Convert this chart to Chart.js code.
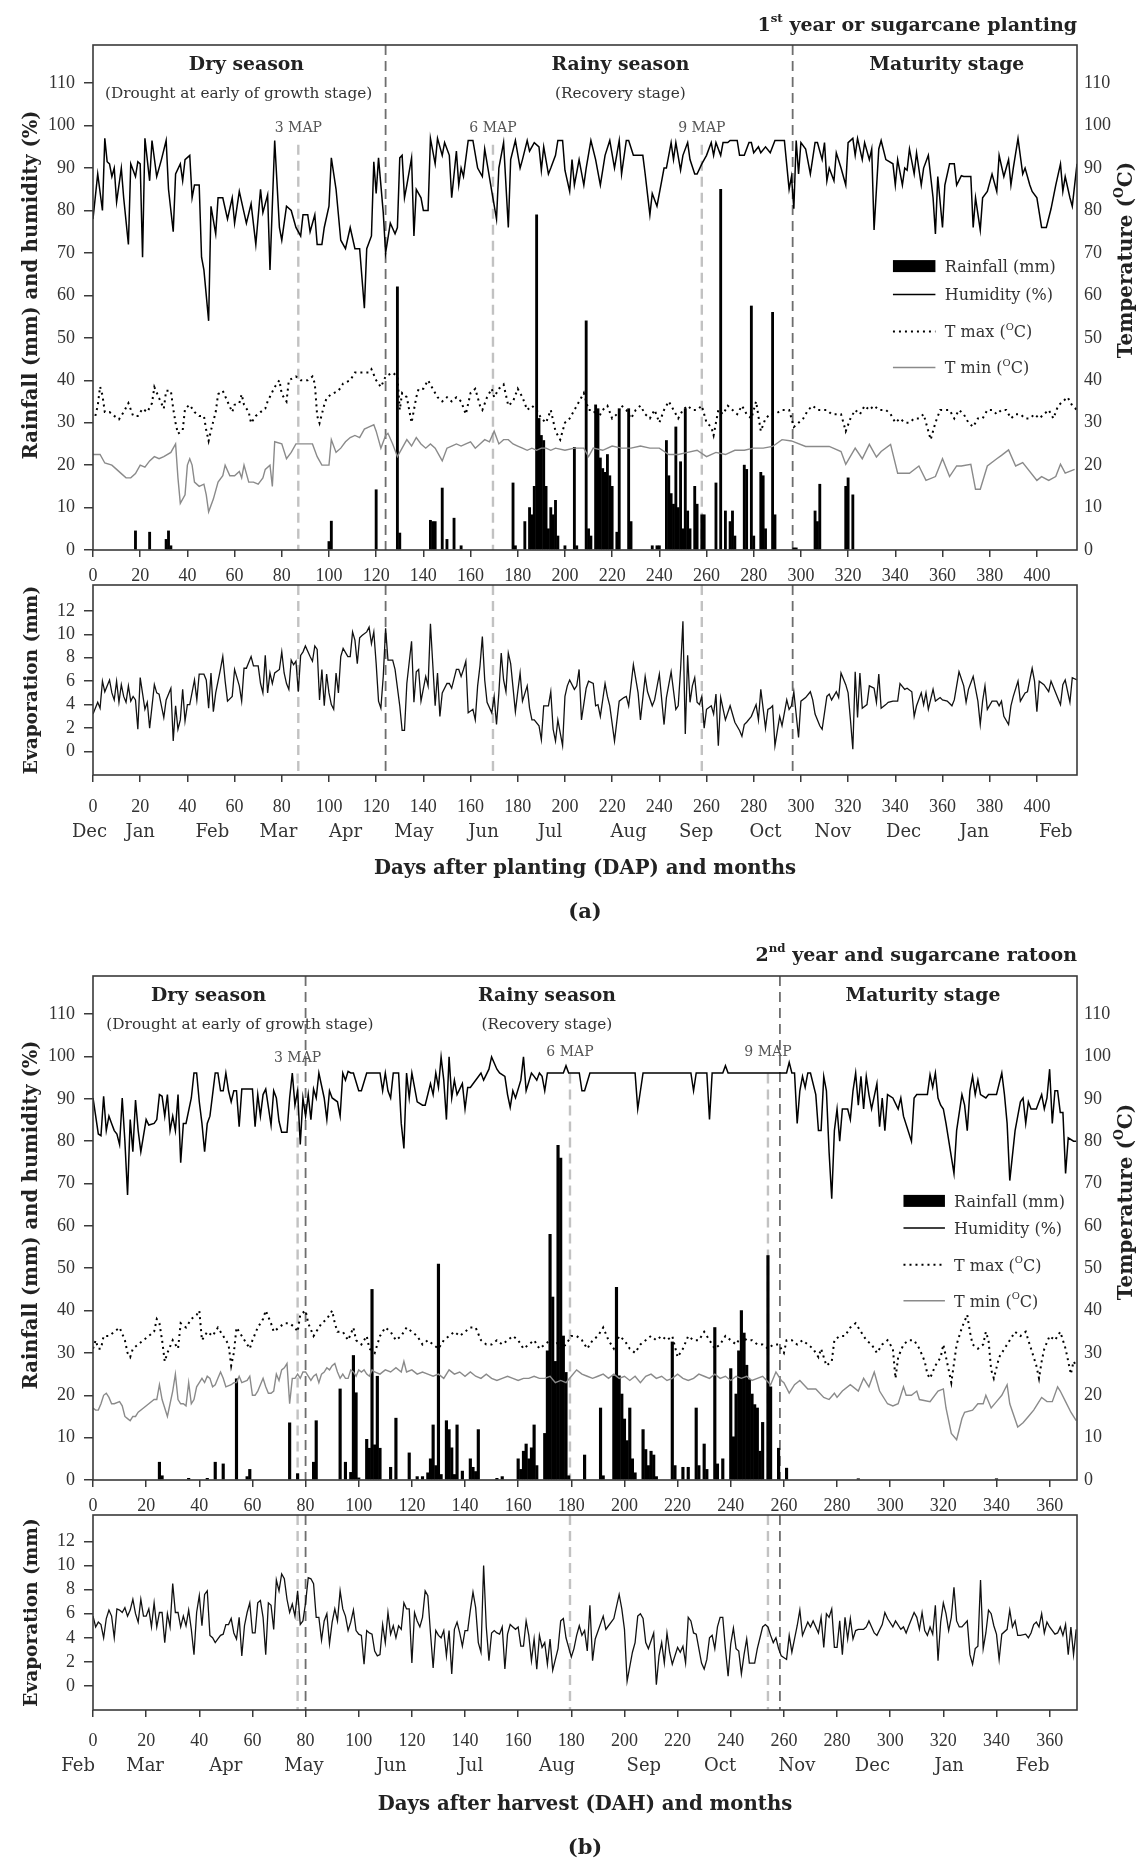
<!DOCTYPE html>
<html>
<head>
<meta charset="utf-8">
<script src="https://cdn.jsdelivr.net/npm/chart.js@4.4.1/dist/chart.umd.min.js"></script>
<style>
  body { margin: 0; background: #fff; }
  #wrap { position: relative; width: 1145px; height: 1866px; overflow: hidden; }
  #wrap canvas { position: absolute; left: 0; }
</style>
</head>
<body>
<div id="wrap">
  <canvas id="topA" width="1145" height="600" style="top:0px"></canvas>
  <canvas id="evapA" width="1145" height="370" style="top:560px"></canvas>
  <canvas id="topB" width="1145" height="600" style="top:930px"></canvas>
  <canvas id="evapB" width="1145" height="376" style="top:1490px"></canvas>
</div>
<script>
/* ---- data: [day, value] ---- */

// (a) 1st year, days after planting
const humidityA = [[0,78],[2,88.6],[4,80],[5,97],[6,91.5],[7,91],[8,88],[9,90],[10,82],[12,90],[13,83],[15,72],[16,91],[18,88],[19,91.5],[20,91],[21,69],[22,97],[24,87],[25,96.5],[27,88],[29,92],[31,96.5],[32,85],[34,75],[35,88.6],[37,91],[38,87],[39,92],[41,93],[42,83],[43,86],[45,86],[46,69],[47,66],[49,54],[50,81],[52,74.5],[53,83],[55,83],[57,78],[59,83],[60,77],[62,84.5],[64,79.5],[65,77],[67,81.6],[69,72],[71,85],[72,79.5],[74,83.7],[75,66],[77,96.5],[79,76],[80,73],[82,81],[84,80],[86,76],[88,74],[89,79],[91,79],[92,75],[94,79],[95,72],[97,72],[98,76],[100,81],[101,92.4],[103,85],[105,73],[107,71],[109,76],[111,71],[113,71],[115,57],[116,71],[118,74],[119,91.5],[120,84],[121,92.4],[123,79.5],[124,70],[126,77],[128,74.5],[129,76],[130,92.4],[131,93],[132,83],[133,86],[135,92.4],[136,74],[137,85],[139,83],[140,80],[142,80],[143,97],[145,91],[146,97],[148,93],[149,96],[151,93],[152,83],[154,94],[155,86],[156,90],[157,88],[159,96.5],[161,96.5],[163,90],[165,88],[166,94.5],[169,84.5],[171,78],[172,90],[174,96],[176,76],[177,92],[179,96.5],[181,90],[182,92],[184,96.5],[185,94],[187,96],[189,95],[190,89.5],[191,95],[193,88.6],[194,90],[196,93],[197,96.5],[199,96.5],[200,89.5],[202,84.5],[203,92],[204,86],[206,92],[208,86],[209,90],[211,96.5],[213,92],[215,86],[217,93],[219,96.5],[221,90],[223,96.5],[224,88.6],[226,96.5],[227,96.5],[229,93],[233,93],[234,88.6],[236,79],[237,84],[239,81],[241,87],[242,90],[243,90],[245,96],[246,92],[247,96],[249,89.5],[250,93],[252,96],[253,92],[255,88.6],[256,88.6],[258,91],[259,92],[260,93],[262,96],[263,93],[264,96],[266,93],[267,96],[269,96],[270,96.5],[273,96.5],[274,93],[276,93],[278,96],[279,96],[280,93.6],[282,95],[283,93.6],[285,95],[287,93.6],[289,96.5],[293,96.5],[295,85],[296,88],[297,80.4],[298,96.5],[299,88.6],[300,96],[302,94.5],[304,88.6],[306,96],[307,96],[309,92],[310,96],[311,87],[312,90],[314,87],[315,93.6],[317,90],[319,86],[320,96],[322,97],[323,93],[324,97],[326,92],[327,96],[329,92],[330,94.5],[331,75.4],[333,94.5],[334,96.5],[336,92],[339,91],[340,86],[341,92],[343,86],[344,90],[345,89.5],[346,94.5],[348,88.6],[349,93.6],[351,86],[352,90],[354,93],[356,83],[357,74.5],[358,88],[360,76],[361,86],[363,91],[365,91],[366,86],[368,88.2],[369,88],[372,88],[373,76],[374,83],[376,75.4],[377,83],[379,84.5],[381,88.6],[383,84.5],[384,93],[386,88],[388,92],[389,86],[390,90],[392,97],[394,88.6],[395,90],[397,86],[398,84.5],[400,83],[401,79.5],[402,76],[404,76],[406,80.4],[408,86],[410,91],[411,84.5],[412,88],[414,83],[415,81],[417,91]];
const tmaxA = [[1,31.6],[2,34],[3,38.5],[4,36.5],[5,32.5],[7,32.5],[9,31.6],[11,30.8],[13,32.5],[15,34.6],[17,31.6],[19,31.6],[21,33.3],[23,32.5],[25,34.6],[26,38.4],[28,35.8],[30,33.3],[31,37.5],[33,37.5],[34,33.3],[35,29.9],[36,27.4],[38,28.2],[39,33.3],[41,34.2],[43,32.5],[45,31.6],[47,31.6],[48,28.2],[49,25.7],[50,28.2],[52,32.5],[53,36.7],[55,37.5],[57,35],[59,32.5],[60,34.2],[62,34.6],[63,36.7],[64,34.2],[66,32.5],[67,29.9],[69,31.6],[71,32.5],[73,33.3],[74,35],[77,38.4],[79,40],[80,36.7],[82,35],[83,40],[86,40.9],[88,40],[91,40],[93,40.9],[94,39.2],[95,31.6],[96,29.9],[98,34.2],[99,35.8],[101,36.7],[104,37.5],[106,39.2],[109,40],[111,41.8],[114,41.8],[117,41.8],[118,42.6],[120,40],[122,38.4],[124,40.9],[127,41.8],[129,40.9],[130,33],[131,37],[133,36],[135,30],[137,36],[138,38],[140,38],[142,40],[144,38],[146,36],[148,35],[150,36],[152,35],[154,36],[156,35],[158,32],[160,37],[162,38],[164,34],[165,33],[167,36],[169,38],[170,36],[172,38],[174,39],[176,34],[178,35],[180,38],[182,36],[184,33],[186,34],[188,33],[190,31],[192,30],[194,33],[196,28],[198,26],[200,30],[202,31],[204,33],[206,35],[208,37],[210,33],[212,33],[214,31],[216,33],[218,34],[220,31],[222,32],[224,34],[226,33],[228,31],[230,33],[232,34],[234,32],[236,31],[238,33],[240,30],[242,33],[244,35],[246,33],[248,31],[250,33],[252,34],[254,33],[256,33],[258,34],[260,30],[262,29],[263,27],[265,33],[267,32],[269,34],[271,33],[273,32],[275,34],[277,32],[279,31],[281,35],[283,28],[285,31],[287,32],[289,32],[292,33],[295,33],[297,29],[299,30],[301,31],[303,33],[305,34],[307,33],[309,33],[311,33],[313,32],[315,32],[317,32],[319,28],[321,31],[323,33],[325,32],[327,34],[329,33],[331,34],[333,33],[336,33],[338,32],[340,30],[342,31],[344,30],[346,30],[348,31],[350,31],[352,32],[354,28],[355,26],[357,30],[359,33],[361,33],[363,33],[365,31],[367,33],[369,32],[371,30],[373,29],[375,31],[377,31],[379,33],[381,33],[383,32],[385,33],[387,33],[389,31],[391,32],[393,32],[395,31],[397,31],[399,32],[401,31],[403,32],[405,33],[407,31],[409,34],[411,35],[413,36],[415,34],[417,33]];
const tminA = [[0,22.5],[3,22.5],[5,20.5],[8,20],[10,19],[12,18],[14,17],[16,17],[18,18],[20,20],[22,19.5],[24,21],[26,22],[28,21.5],[30,22],[33,23],[35,25],[36,17],[37,11],[39,13],[40,20],[41,21.5],[42,20],[43,16],[45,15],[47,15.5],[48,13],[49,9],[51,12],[53,16],[55,17.5],[56,20],[58,17.5],[60,17.5],[62,18.5],[63,17],[64,20],[66,16],[68,16],[70,15.5],[72,17],[73,19],[75,20],[76,15],[77,25.5],[80,25],[82,21.5],[84,23],[86,25],[90,25],[93,25],[95,22],[97,20],[100,20],[101,26],[103,23],[105,24],[107,25.5],[109,26.5],[111,27],[113,26.5],[115,28.5],[117,29],[119,29.5],[120,28],[121,26],[122,24],[124,27],[125,27.5],[127,25],[129,22],[131,24],[133,26],[135,24.5],[137,26.5],[139,25],[141,24],[143,25],[145,24],[147,22],[148,21],[150,24],[152,24.5],[154,25],[156,24.5],[158,25],[160,25.5],[162,24],[164,25],[166,26],[168,25.5],[170,28],[172,25],[174,26],[176,26],[178,25],[180,24.5],[182,24],[184,23.5],[186,24],[188,23.5],[190,24],[192,24],[194,23.5],[196,24],[200,23.5],[204,24],[208,24],[210,22],[212,24],[216,23.5],[220,24.5],[224,24],[228,24],[232,24.5],[236,24],[240,24],[244,22.5],[248,22.5],[252,23],[256,23.5],[260,22],[264,23],[268,22.5],[272,23.5],[276,23.5],[280,24],[284,24],[288,24.4],[292,26],[296,25.7],[302,24.4],[312,24.4],[317,23.2],[319,20.2],[323,24],[326,21.5],[329,24.9],[332,21.9],[334,23.2],[338,24.9],[341,18.1],[346,18.1],[350,19.8],[353,16.4],[357,17.3],[360,21.5],[363,17.3],[366,19.8],[368,19.8],[372,20.2],[374,14.3],[376,14.3],[379,19.8],[383,21.5],[385,22.3],[388,23.6],[391,19.8],[394,20.6],[400,16.4],[402,17.3],[405,16.4],[408,17.3],[410,20.2],[412,18.1],[416,19]];
const rainA = [[18,4.5],[24,4.2],[31,2.5],[32,4.5],[33,1],[100,2],[101,6.8],[120,14.2],[129,62],[130,4],[143,7],[144,6.7],[145,6.7],[148,14.6],[150,2.5],[153,7.5],[156,1],[178,15.8],[179,1],[183,6.7],[185,10],[186,8.3],[187,15],[188,79],[189,31],[190,27],[191,25.8],[192,15],[193,5],[194,10],[195,8.3],[196,11.7],[197,3.3],[200,1],[204,24.2],[205,1],[209,54],[210,5],[211,3.3],[213,34.2],[214,33.3],[215,21.7],[216,19.2],[217,18.3],[218,22.5],[219,17.5],[220,15],[222,4.2],[223,33.3],[227,33.3],[228,6.7],[237,1],[239,1],[240,1],[243,25.8],[244,17.5],[245,13.3],[246,10.8],[247,29],[248,10],[249,20.8],[250,5],[251,33.3],[252,9.2],[253,5],[255,15],[256,10.8],[258,8.3],[259,8.3],[264,15.8],[266,85],[268,9.2],[270,6.7],[271,9.2],[272,3.3],[276,20],[277,19],[279,57.5],[280,3.3],[283,18.3],[284,17.5],[285,5],[288,56],[289,8.3],[297,0.5],[298,0.5],[306,9.2],[307,6.7],[308,15.5],[319,15],[320,17],[322,13]];
const evapA = [[0,3.2],[2,4.2],[3,3.7],[4,6],[5,5.1],[7,6.1],[8,5],[9,4.4],[10,6],[11,4.2],[12,5.7],[13,4.7],[14,4.2],[15,5.6],[16,4.3],[17,4.7],[18,4.4],[19,1.9],[20,6.3],[22,3.6],[23,4.2],[24,2],[26,5.7],[27,5],[28,4.9],[30,2.9],[31,4.4],[33,5.4],[34,0.9],[35,3.9],[36,1.9],[37,2.7],[38,5.3],[39,2.6],[40,4],[41,4],[43,6.1],[44,4.4],[45,6.6],[47,6.6],[48,6.1],[49,3.7],[50,6.7],[51,3.4],[52,5],[54,7],[55,8.1],[56,6],[57,4.3],[59,4.7],[60,7],[62,5.6],[63,4.3],[64,7.1],[65,7.1],[67,8.1],[68,7.3],[70,7.3],[71,5.8],[72,5],[73,8.2],[74,5],[75,6.7],[76,5.8],[77,6.7],[79,7],[80,8.5],[81,6.7],[82,5.8],[83,5.3],[84,7.8],[85,7.4],[86,7.7],[87,5.1],[88,8.2],[89,8.5],[90,9],[92,8.1],[93,7.7],[94,9],[95,8.7],[96,4.4],[97,7],[98,3.9],[99,6.6],[100,5],[101,4],[102,3.6],[103,6.7],[104,5],[105,8.1],[106,8.8],[108,8.1],[109,8.1],[110,10.2],[111,9.5],[112,7.5],[113,9.7],[114,9.9],[116,10.2],[117,10.6],[118,9.2],[119,10.2],[120,7.5],[121,4.3],[122,3.7],[123,6.4],[124,10.5],[125,7.8],[127,7.8],[128,7],[130,3.9],[131,1.8],[132,1.8],[133,5.8],[135,9.4],[136,4.2],[137,6.8],[138,7],[139,4.3],[141,6.4],[142,5.6],[143,10.9],[144,7.4],[145,3.9],[146,6.7],[147,3],[148,5],[150,5.8],[151,5.8],[152,5.4],[154,7],[155,7],[156,6.4],[157,7],[158,7.7],[159,3.3],[161,3.6],[162,2.7],[163,5.6],[164,7.3],[165,9.8],[166,6.1],[167,4.2],[169,3.3],[170,4.7],[171,2.3],[172,5],[173,8.4],[174,6.1],[175,5.1],[176,8.4],[177,7.5],[179,3.4],[180,5.1],[181,6.7],[182,4.3],[184,5.6],[185,3.7],[186,2.7],[187,2.7],[189,2.2],[190,1],[191,3.9],[193,3.9],[194,5.1],[195,1.9],[196,0.9],[197,2.7],[198,1.6],[199,0.5],[200,4.7],[201,5.6],[202,6.1],[204,5.3],[205,5.6],[206,7],[207,2.7],[209,5.4],[210,6],[212,5.8],[213,3.9],[214,4],[215,3],[217,5.8],[218,4.7],[219,3.9],[221,0.9],[223,4.3],[225,4.6],[226,4.7],[227,3.9],[229,7.4],[231,5],[232,2.7],[234,6.4],[235,5.1],[237,3.9],[238,4.4],[240,6.6],[242,2.3],[243,4.6],[245,6.8],[247,3.6],[248,3.9],[249,7],[250,11.1],[251,1.5],[252,8.2],[253,4.2],[254,5.6],[255,6.3],[256,4.2],[257,4],[258,4.7],[259,2],[260,3.6],[262,3.9],[263,3.2],[264,4.9],[265,0.5],[266,4.6],[268,2.7],[270,3.9],[272,2.5],[274,1.8],[275,1.3],[276,2.3],[277,2.5],[279,3],[281,4],[282,2.7],[283,5.3],[285,2],[286,3.6],[287,3.7],[288,3.9],[289,0.5],[291,3],[292,2.2],[294,4.4],[295,3.6],[296,3.9],[297,5.1],[299,1.2],[300,4.3],[302,4.6],[304,5.1],[305,4.4],[306,3.2],[308,2.2],[309,1.9],[311,4.7],[312,4.9],[313,4.4],[315,5.1],[316,4.6],[317,6.7],[319,5.7],[320,5],[321,2.7],[322,0.2],[323,6.8],[324,2.9],[325,6.7],[326,3.7],[328,4],[329,5.6],[331,5.4],[332,4.2],[333,6.6],[334,3.7],[336,4],[337,4.2],[339,4.3],[341,4.3],[342,5.8],[344,5.3],[345,5.4],[347,5.1],[348,3],[349,3.9],[351,5],[352,4],[353,5],[354,3.6],[356,5.3],[357,4.3],[359,4.6],[360,4.4],[362,4.3],[364,3.9],[365,4.4],[367,6.8],[369,5.6],[370,4.2],[371,5.3],[373,6.4],[375,4.3],[376,2.3],[377,4.3],[378,5.6],[379,3.6],[381,4.3],[383,4.3],[384,3.9],[385,4.3],[386,3],[388,2.3],[389,3.9],[390,4.7],[392,6],[393,4.3],[395,5],[396,5.1],[398,7.1],[399,6],[400,3.4],[401,6],[403,5.7],[405,5.1],[406,6],[408,5],[410,4],[411,5.7],[412,6.1],[414,4.2],[415,6.3],[417,6.1]];
const monthsA = ['Dec','Jan','Feb','Mar','Apr','May','Jun','Jul','Aug','Sep','Oct','Nov','Dec','Jan','Feb'];
const monthDaysA = [-1.5,20,50.6,78.6,107,136,165.5,193.7,227,255.6,285,313.5,343.5,373.5,408];
const mapLinesA = [87, 169.5, 258];   // 3, 6, 9 months after planting
const stageLinesA = [124, 296.5];     // dry -> rainy -> maturity

// (b) 2nd year, days after harvest
const humidityB = [[0,90.2],[2,81.7],[3,81.3],[4,90.6],[5,82.5],[6,85.9],[7,84.2],[8,82.5],[9,81.7],[10,79.2],[11,90.2],[12,80],[13,67.3],[14,85.1],[15,77.5],[16,89.7],[17,82.5],[18,77.5],[20,85.1],[21,83.8],[23,84.2],[24,85.1],[25,91],[26,90.6],[27,85.9],[28,91],[29,82.5],[30,85.9],[31,82.5],[32,91],[33,74.9],[34,84.2],[35,84.2],[37,90.2],[38,96.1],[39,96.1],[40,89.3],[41,84.2],[42,77.5],[43,84.2],[44,85.9],[45,91],[46,96.1],[47,96.1],[48,91.9],[49,91.9],[50,96.1],[51,91.9],[52,89.3],[53,91.9],[54,91.9],[55,83.4],[56,92.3],[58,92.3],[60,92.3],[61,83.4],[62,91],[63,85.9],[64,91],[65,92.3],[67,83.8],[68,91.9],[69,90.2],[70,84.7],[71,82.1],[73,82.1],[74,90.2],[75,96.1],[76,88.5],[77,91.9],[78,79.2],[79,90.2],[80,85.9],[81,91],[82,85.1],[83,92.3],[84,90.2],[85,96.1],[87,90.2],[88,85.1],[89,91.9],[90,90.2],[92,89.3],[93,85.9],[94,96.1],[95,94.4],[96,96.5],[97,96.1],[98,96.1],[100,91.9],[101,91.9],[103,96.1],[108,96.1],[109,91.9],[110,96.1],[111,91.9],[112,90.2],[113,96.1],[115,96.1],[116,84.2],[117,78.3],[118,96.1],[119,90.2],[120,96.1],[121,92.7],[122,89.3],[124,88.5],[125,88.5],[127,93.6],[128,91],[129,96.1],[130,92.7],[131,99.9],[132,94.4],[133,85.1],[134,99.9],[135,90.2],[136,94.4],[137,91],[139,93.6],[140,87.6],[141,92.7],[142,92.7],[144,94.4],[146,96.1],[147,94.4],[149,97],[150,99.9],[152,97],[153,96.1],[155,95.3],[156,91],[157,88],[158,91.9],[159,90.2],[161,94.4],[162,99.9],[163,91.9],[165,96.1],[166,95.3],[167,94.4],[168,96.1],[169,95.3],[170,91.9],[171,96.1],[177,96.1],[178,97.8],[179,96.1],[183,96.1],[184,91.9],[185,91.9],[187,96.1],[204,96.1],[205,87.6],[207,96.1],[225,96.1],[226,91.9],[227,96.1],[231,96.1],[232,85.1],[233,96.1],[237,96.1],[238,97.8],[239,96.1],[261,96.1],[262,98.6],[263,96.1],[264,96.1],[265,84.2],[266,91.9],[267,95.3],[268,92.7],[269,96.1],[270,96.1],[272,91],[273,82.5],[274,82.5],[275,95.3],[276,91.9],[277,77.5],[278,66.4],[279,82.5],[280,87.6],[281,80],[282,87.6],[284,87.6],[285,85.1],[286,91.9],[287,96.1],[288,88.5],[289,95.3],[290,87.6],[291,95.3],[292,91],[293,87.6],[295,93.6],[296,83.4],[297,90.2],[298,82.5],[299,91],[301,90.2],[303,87.6],[304,90.2],[305,85.9],[308,80],[309,90.2],[310,91],[314,91],[315,95.7],[316,92.7],[317,96.1],[318,90.2],[319,88.5],[320,87.6],[321,84.2],[324,72.4],[325,82.5],[327,91],[328,88.5],[329,82.5],[330,91.9],[331,95.3],[332,91],[333,94.4],[334,91],[336,90.2],[337,91],[339,91],[340,91],[342,96.1],[343,91],[344,84.2],[345,70.7],[347,82.5],[348,85.9],[349,89.3],[350,90.2],[351,84.2],[352,89.3],[353,87.6],[355,87.6],[356,89.3],[357,91],[358,87.6],[359,90.2],[360,97],[361,84.2],[362,91.9],[363,91.9],[364,86.8],[365,86.8],[366,72.4],[367,80.8],[369,80],[370,80]];
const tmaxB = [[0,31],[1,33],[2,31],[3,31],[4,34],[6,34],[8,35],[10,36],[12,33],[13,30],[14,29],[15,31],[17,32],[19,33],[21,34],[23,35],[24,38],[25,37],[26,33],[27,28],[28,30],[30,33],[32,31],[33,37],[35,36],[37,38],[39,39],[40,40],[41,33],[43,35],[45,34],[47,36],[49,34],[51,32],[52,27],[53,30],[54,36],[56,34],[58,32],[59,31],[60,33],[62,36],[64,38],[65,40],[67,37],[68,35],[70,36],[72,37],[74,37],[76,36],[77,35],[78,39],[80,40],[81,37],[83,34],[84,35],[86,37],[88,38],[90,40],[91,37],[92,35],[94,35],[96,33],[98,36],[99,33],[101,32],[103,34],[104,31],[106,30],[108,34],[110,36],[112,35],[114,33],[116,34],[118,36],[120,35],[122,34],[124,32],[126,33],[128,32],[130,31],[132,33],[134,34],[136,35],[138,34],[140,35],[142,36],[144,36],[146,33],[148,32],[150,32],[152,33],[154,32],[156,33],[158,34],[160,33],[162,31],[164,32],[166,33],[168,31],[170,32],[172,33],[174,33],[176,31],[178,32],[180,34],[182,34],[184,33],[186,31],[188,33],[190,34],[192,36],[194,33],[196,31],[198,34],[200,33],[202,31],[204,30],[206,32],[208,33],[210,34],[212,33],[214,34],[216,33],[218,34],[220,29],[222,31],[224,34],[226,33],[228,33],[230,35],[232,33],[234,31],[236,32],[238,34],[240,33],[242,32],[244,34],[246,33],[248,33],[250,32],[252,32],[254,31],[256,32],[258,32],[260,30],[261,33],[263,33],[265,32],[267,33],[269,32],[271,31],[273,29],[274,31],[276,27],[278,28],[279,33],[281,34],[283,34],[285,36],[287,37],[289,35],[291,33],[293,32],[295,30],[297,32],[299,33],[301,31],[302,24],[303,29],[305,32],[307,33],[309,33],[311,31],[313,28],[314,25],[315,24],[317,27],[319,29],[320,32],[322,26],[323,23],[325,32],[327,36],[329,39],[330,35],[331,32],[333,31],[335,32],[336,35],[337,33],[338,26],[339,24],[341,29],[343,31],[345,33],[347,35],[349,34],[351,35],[352,33],[353,31],[355,27],[356,24],[357,28],[358,31],[360,34],[362,33],[364,35],[366,31],[367,28],[368,25],[369,28],[370,27]];
const tminB = [[0,17],[1,16.5],[2,16.5],[3,18],[4,20],[5,20.5],[6,19.5],[7,18],[8,18],[10,18.5],[11,17.5],[12,15],[13,14.5],[14,14],[15,15],[16,15],[17,16],[19,17],[21,18],[23,19],[24,19],[25,22.5],[26,19],[27,17],[28,15],[29,18],[30,21],[31,25],[32,19],[33,18],[34,18],[35,17.5],[36,23],[37,18],[38,19],[39,22],[40,23],[41,24],[42,23],[43,24.5],[44,24],[45,22],[46,22.5],[47,24],[48,25.5],[49,24],[50,22],[52,22.5],[53,23],[54,23],[55,24.5],[56,23],[58,23.5],[59,24.5],[60,20],[61,20],[62,21],[63,22.5],[64,24],[65,22],[66,20.5],[67,20.5],[68,21],[69,25],[70,23.5],[71,26],[72,26.5],[73,27.5],[74,18],[75,24],[76,24],[77,25],[78,24],[79,25.5],[80,25.5],[81,24.5],[82,23.5],[83,24.5],[84,25],[85,23],[86,25],[87,25.5],[88,26.5],[89,26],[90,27],[91,27.5],[92,25.5],[93,24],[94,25],[95,24],[96,24],[97,26],[98,25.5],[99,24.5],[100,26],[101,25.5],[102,26],[103,25],[104,24.5],[105,26],[106,25.5],[108,25],[110,26],[112,25.5],[114,26.5],[116,25.5],[117,28],[118,25.5],[120,26],[122,25],[124,25.5],[126,25],[128,24.5],[130,25],[132,24],[134,26],[136,25],[138,25.5],[140,24.5],[142,25.5],[144,24.5],[146,24],[148,25],[150,24],[152,23.5],[154,24],[156,24.5],[158,24],[160,23.5],[162,24],[164,24],[166,24.5],[168,24],[170,24],[172,24.5],[174,23],[176,23.5],[178,23],[180,24.5],[182,26],[184,25],[186,24.5],[188,24],[190,24.5],[192,25],[194,24],[196,25],[198,24],[200,24.5],[202,23.5],[204,24.5],[206,23],[208,24.5],[210,25],[212,24],[214,24.5],[216,23.5],[218,24],[220,25],[222,24],[224,23.5],[226,24],[228,25],[230,24.5],[232,24],[234,25],[236,24],[238,24.5],[240,23.5],[242,24.5],[244,24],[246,24.5],[248,23.5],[250,24],[252,24.5],[255,22.5],[257,25.5],[259,23.5],[260,23],[262,20.5],[264,22.5],[266,23.5],[269,21.5],[272,21.5],[275,19.5],[277,19],[279,20.5],[280,19.5],[282,21],[285,22.5],[288,21],[290,24],[292,22],[294,25.5],[296,21],[299,18],[301,17.5],[303,18],[305,22],[306,20],[308,20],[310,21],[311,19],[315,18.5],[318,21],[320,21.5],[321,17],[323,11],[325,9.5],[327,14.5],[328,16],[331,16.5],[333,18],[335,18],[336,20],[338,17],[340,18.5],[342,20],[344,22.5],[345,18],[348,12.5],[350,13.5],[352,15],[354,16.5],[356,18.5],[357,19.5],[359,18.5],[361,18.5],[363,22],[364,21],[366,18.5],[368,16],[370,14]];
const rainB = [[25,4.2],[26,1],[36,0.4],[43,0.4],[46,4.2],[49,3.8],[54,23.9],[58,0.8],[59,2.5],[74,13.5],[77,1.5],[83,4.2],[84,14],[93,21.5],[95,4.2],[97,1.8],[98,29.4],[99,20.6],[100,0.5],[103,9.6],[104,7.5],[105,45],[106,8.3],[107,24.5],[108,7.5],[112,3],[114,14.6],[119,6.4],[122,0.8],[124,0.8],[126,1.7],[127,5],[128,13],[129,3.4],[130,51],[131,1.3],[133,14],[134,11.9],[135,7.6],[136,1.3],[137,13],[139,2.1],[142,5],[143,3],[144,2],[145,11.9],[152,0.4],[154,0.8],[160,5],[161,2.5],[162,6.8],[163,8.5],[164,5],[165,7.6],[166,13],[167,3.4],[170,11],[171,30.5],[172,58],[173,43.2],[174,28],[175,79],[176,76],[177,34],[178,25.4],[179,1],[185,5.9],[191,17],[192,1],[196,24.6],[197,45.5],[198,24.6],[199,20.3],[200,14.4],[201,9.3],[202,17],[203,5],[204,1.7],[207,11.9],[208,7.2],[209,3.4],[210,6.8],[211,5.9],[212,0.8],[218,32.6],[219,3.4],[222,3],[224,3],[227,17],[228,3.4],[230,8.5],[231,2.5],[234,36],[235,3.8],[237,5],[240,26.3],[241,10.2],[242,20.3],[243,30.5],[244,40],[245,34.7],[246,27.1],[247,23.7],[248,20.3],[249,17.8],[250,17],[251,6.8],[252,13.6],[254,53],[255,22],[258,7.5],[261,2.8],[288,0.3],[340,0.3]];
const evapB = [[0,5.8],[1,4.9],[2,5.3],[3,5.1],[4,4],[5,5.6],[6,6.3],[7,5.8],[8,4],[9,6.4],[10,6.3],[11,6.1],[12,6.5],[13,5.8],[14,6.3],[15,7.2],[16,6],[17,5.3],[18,7.2],[19,5.8],[20,5.8],[21,6.4],[22,4.9],[23,6.9],[24,4.9],[25,6.1],[26,6.1],[27,3.6],[28,6],[29,4.9],[30,8.5],[31,6.1],[32,6.1],[33,4.9],[34,5.8],[35,5],[36,6.3],[37,4.7],[38,2.6],[39,6.1],[40,7.5],[41,5],[42,7.6],[43,7.9],[44,4.2],[45,4],[46,3.6],[47,3.9],[48,4.2],[49,4.3],[50,5.1],[51,5.1],[52,5.6],[53,4.4],[54,3.9],[55,5.7],[56,2.5],[57,5],[58,6.1],[59,6.9],[60,4.4],[61,4.4],[62,6.9],[63,7.1],[64,5.7],[65,2.6],[66,6.9],[67,6.7],[68,4.7],[69,8.8],[70,7.9],[71,9.3],[72,8.9],[73,7.2],[74,6.1],[75,6.8],[76,5.8],[77,7.9],[78,5.1],[79,5.4],[80,6.9],[81,9],[82,8.9],[83,8.5],[84,5.7],[85,5.7],[86,3.8],[87,5.4],[88,6],[89,3.5],[90,5.3],[91,6.4],[92,5.4],[93,7.9],[94,6.4],[95,5.8],[96,4.6],[97,5.3],[98,6.3],[99,4.6],[100,4.3],[101,4.2],[102,1.8],[103,4.6],[104,4.4],[105,4.3],[106,2.9],[107,2.5],[108,2.6],[109,5.1],[110,3.6],[111,6.1],[112,4.3],[113,5],[114,4],[115,5],[116,4.7],[117,6.9],[118,6.4],[119,6.4],[120,1.9],[121,6.1],[122,5.4],[123,4.9],[124,5.7],[125,7.9],[126,7.5],[127,4.4],[128,1.5],[129,4.6],[130,4.2],[131,4],[132,4.6],[133,2.5],[134,4.6],[135,1],[136,4.7],[137,5.3],[138,4.4],[139,3.3],[140,4.6],[141,4.6],[142,6.3],[143,7.8],[144,6.5],[145,3.6],[146,2.8],[147,10],[148,4.9],[149,2.1],[150,4.4],[151,4.6],[152,4.4],[153,4.3],[154,4.9],[155,1.4],[156,4.3],[157,5.1],[158,4.9],[159,4.7],[160,4.9],[161,3.3],[162,3.3],[163,5.4],[164,4.2],[165,2.1],[166,3.9],[167,1.4],[168,4.2],[169,3.2],[170,3.6],[171,1.8],[172,3.9],[173,1.3],[174,2.2],[175,3.1],[176,5.4],[177,5.6],[178,4],[179,3.2],[180,2.4],[181,3.1],[182,4.2],[183,5],[184,4.2],[185,4.6],[186,2.9],[187,6.7],[188,2.1],[189,3.9],[192,5.8],[193,4.7],[194,5],[196,5.6],[198,7.6],[199,6.4],[200,4.7],[201,0.4],[203,2.8],[204,3.6],[205,5.8],[206,6],[207,5.6],[208,3.6],[209,3.1],[211,4.4],[212,0.1],[213,2.5],[214,3.6],[215,1.9],[216,4.4],[217,2.8],[218,1.8],[220,3.2],[221,2.8],[222,3.3],[223,1.9],[224,5.7],[225,5.4],[226,4.4],[227,4.3],[228,3.1],[229,1.9],[230,1.4],[231,2.2],[232,4],[233,4.2],[234,3.1],[235,4.9],[236,5.7],[237,5.7],[238,3.1],[239,0.8],[240,3.5],[241,4.8],[242,3.1],[243,2.9],[244,1],[245,2.6],[246,3.9],[247,1.9],[248,1.9],[249,1.9],[250,3.1],[251,4],[252,4.9],[253,5.1],[254,4.9],[255,4.2],[256,3.6],[257,4],[258,3.1],[259,2.5],[261,2.2],[262,4.2],[263,2.8],[264,3.9],[265,5],[266,6.3],[267,4.2],[269,5.3],[270,4.9],[271,5.4],[273,4.4],[274,5.7],[275,3.2],[276,6],[277,5.7],[278,6.4],[279,3.2],[280,3.2],[281,5.4],[282,2.6],[283,5.7],[284,3.9],[285,5.6],[286,3.9],[287,4.6],[288,4.7],[290,4.7],[291,4.9],[292,5.4],[294,4.4],[295,4.2],[297,5.1],[298,6.1],[299,5.6],[301,4.9],[302,5.4],[304,4.7],[305,4.9],[306,4.4],[307,5],[309,6.1],[310,5.7],[311,4.7],[312,6.1],[313,4.6],[314,4.2],[315,4.9],[316,4.3],[317,6.7],[318,2.1],[319,5.3],[320,6.9],[321,6],[322,4.6],[323,5.7],[324,8.2],[325,5.4],[326,4.9],[327,4.9],[329,5.4],[330,2.6],[331,1.8],[332,3.1],[333,3.3],[334,8.8],[335,3.1],[336,4.4],[337,6.3],[338,6],[339,5],[340,4.3],[341,2.2],[342,4.3],[344,4.7],[345,6.3],[346,4.9],[347,5.4],[348,4.2],[349,4.2],[351,4.3],[352,4],[353,4.4],[354,5.1],[355,5.3],[356,4.9],[357,6],[358,4.4],[359,5.3],[360,4.9],[362,4.3],[363,4.4],[364,4.9],[365,4.2],[366,5.1],[367,2.6],[368,4.9],[369,2.6],[370,4.7]];
const monthsB = ['Feb','Mar','Apr','May','Jun','Jul','Aug','Sep','Oct','Nov','Dec','Jan','Feb'];
const monthDaysB = [-5.6,19.6,50,79.4,112.3,142.2,174.6,207.3,236,264.9,293.3,322.2,353.6];
const mapLinesB = [77, 179.5, 254];
const stageLinesB = [80, 258.5];

const mapLabels = ['3 MAP', '6 MAP', '9 MAP'];

/* ---- drawing helpers ---- */
const SERIF = '"DejaVu Serif", "Liberation Serif", serif';
const NUM = '"Liberation Serif", "DejaVu Serif", serif';
const INK = '#222';
const AXIS = '#3a3a3a';

Chart.defaults.font.family = NUM;
Chart.defaults.font.size = 18;
Chart.defaults.color = '#333';

const xy = pts => pts.map(p => ({ x: p[0], y: p[1] }));
const stepTicks = (from, to, step) => {
  const t = [];
  for (let v = from; v <= to + 1e-9; v += step) t.push({ value: v });
  return t;
};

// text with ^superscript^ segments
function richText(ctx, str, x, y, size, weight, family, align, color) {
  const segs = str.split('^').map((t, i) => ({ t, sup: i % 2 === 1 }));
  const fontOf = s => `${weight} ${s.sup ? size * 0.62 : size}px ${family}`;
  let w = 0;
  segs.forEach(s => { ctx.font = fontOf(s); w += ctx.measureText(s.t).width; });
  let cx = align === 'right' ? x - w : align === 'center' ? x - w / 2 : x;
  const base = y + size * 0.36;
  ctx.fillStyle = color || INK;
  ctx.textAlign = 'left';
  ctx.textBaseline = 'alphabetic';
  segs.forEach(s => {
    ctx.font = fontOf(s);
    ctx.fillText(s.t, cx, s.sup ? base - size * 0.45 : base);
    cx += ctx.measureText(s.t).width;
  });
}

function vertText(ctx, str, cx, cy, size, weight, color) {
  ctx.save();
  ctx.translate(cx, cy);
  ctx.rotate(-Math.PI / 2);
  richText(ctx, str, 0, 0, size, weight, SERIF, 'center', color);
  ctx.restore();
}

function vline(ctx, px, y0, y1, color, width, dash) {
  ctx.save();
  ctx.beginPath();
  ctx.setLineDash(dash);
  ctx.strokeStyle = color;
  ctx.lineWidth = width;
  ctx.moveTo(px, y0);
  ctx.lineTo(px, y1);
  ctx.stroke();
  ctx.restore();
}

function frame(chart) {
  const { ctx, chartArea: a } = chart;
  ctx.save();
  ctx.strokeStyle = AXIS;
  ctx.lineWidth = 1.6;
  ctx.strokeRect(a.left, a.top, a.right - a.left, a.bottom - a.top);
  ctx.restore();
}

const LIGHT = '#c2c2c2', DARK = '#6e6e6e';

function topPlugin(p) {
  return {
    id: 'topDeco',
    beforeDatasetsDraw(chart) {
      const { ctx, chartArea: a, scales: { x, y } } = chart;
      p.mapLines.forEach(d => vline(ctx, x.getPixelForValue(d), y.getPixelForValue(p.mapTop), a.bottom, LIGHT, 2.4, [10, 6]));
      p.stageLines.forEach(d => vline(ctx, x.getPixelForValue(d), a.top, a.bottom, DARK, 1.8, [10, 6]));
    },
    afterDraw(chart) {
      const { ctx, chartArea: a, scales: { x, y } } = chart;
      frame(chart);
      // panel title
      richText(ctx, p.title, a.right, 24, 19, 'bold', SERIF, 'right');
      // stage headers
      p.stages.forEach(s => {
        richText(ctx, s.head, x.getPixelForValue(s.x), y.getPixelForValue(114.6), 18.8, 'bold', SERIF, 'center');
        if (s.sub) richText(ctx, s.sub, x.getPixelForValue(s.subX), y.getPixelForValue(107.7), 15.3, 'normal', SERIF, 'center', '#333');
      });
      // MAP labels
      p.mapLines.forEach((d, i) => richText(ctx, mapLabels[i], x.getPixelForValue(d), y.getPixelForValue(p.mapLabelY[i]), 14, 'normal', SERIF, 'center', '#555'));
      // legend
      const lg = p.legend;
      const x0 = x.getPixelForValue(lg.x0), x1 = x.getPixelForValue(lg.x1), tx = x.getPixelForValue(lg.tx);
      const rows = lg.rows.map(v => y.getPixelForValue(v));
      ctx.save();
      ctx.fillStyle = '#000';
      ctx.fillRect(x0, rows[0] - 6, x1 - x0, 12);
      ctx.lineWidth = 1.5; ctx.strokeStyle = '#000';
      ctx.beginPath(); ctx.moveTo(x0, rows[1]); ctx.lineTo(x1, rows[1]); ctx.stroke();
      ctx.setLineDash([2, 4]); ctx.lineWidth = 2;
      ctx.beginPath(); ctx.moveTo(x0, rows[2]); ctx.lineTo(x1, rows[2]); ctx.stroke();
      ctx.setLineDash([]); ctx.lineWidth = 1.5; ctx.strokeStyle = '#8a8a8a';
      ctx.beginPath(); ctx.moveTo(x0, rows[3]); ctx.lineTo(x1, rows[3]); ctx.stroke();
      ctx.restore();
      ['Rainfall (mm)', 'Humidity (%)', 'T max (^O^C)', 'T min (^O^C)'].forEach((t, i) =>
        richText(ctx, t, tx, rows[i], 16, 'normal', SERIF, 'left', '#333'));
      // axis titles
      vertText(ctx, 'Rainfall (mm) and humidity (%)', 30, p.leftTitleY, 19.5, 'bold');
      vertText(ctx, 'Temperature (^O^C)', 1125, p.rightTitleY, 20, 'bold');
    }
  };
}

function evapPlugin(p) {
  return {
    id: 'evapDeco',
    beforeDatasetsDraw(chart) {
      const { ctx, chartArea: a, scales: { x } } = chart;
      p.mapLines.forEach(d => vline(ctx, x.getPixelForValue(d), a.top, a.bottom, LIGHT, 2.4, [10, 6]));
      p.stageLines.forEach(d => vline(ctx, x.getPixelForValue(d), a.top, a.bottom, DARK, 1.8, [10, 6]));
    },
    afterDraw(chart) {
      const { ctx, chartArea: a, scales: { x } } = chart;
      frame(chart);
      vertText(ctx, 'Evaporation (mm)', 30, (a.top + a.bottom) / 2, 18.5, 'bold');
      p.months.forEach((m, i) => richText(ctx, m, x.getPixelForValue(p.monthDays[i]), a.bottom + p.monthDy, 18, 'normal', SERIF, 'center', '#333'));
      richText(ctx, p.xTitle, (a.left + a.right) / 2, a.bottom + p.titleDy, 19.7, 'bold', SERIF, 'center');
      richText(ctx, p.letter, (a.left + a.right) / 2, a.bottom + p.letterDy, 21, 'bold', SERIF, 'center');
    }
  };
}

function xScale(xmax, last, height, pad) {
  return {
    type: 'linear', min: 0, max: xmax, offset: false,
    ticks: { stepSize: 20, autoSkip: false, maxRotation: 0, padding: pad, color: '#333', font: { size: 18 } },
    afterBuildTicks: s => { s.ticks = stepTicks(0, last, 20); },
    grid: { drawOnChartArea: false, drawTicks: true, tickLength: 7, color: AXIS, lineWidth: 1.5, offset: false },
    border: { display: false },
    afterFit: s => { s.height = height; }
  };
}

function topChart(id, p) {
  return new Chart(document.getElementById(id), {
    type: 'bar',
    data: {
      datasets: [
        { type: 'line', label: 'Humidity (%)', data: xy(p.hum), borderColor: '#000', borderWidth: 1.5, pointRadius: 0, tension: 0, yAxisID: 'y', order: 1 },
        { type: 'line', label: 'T max', data: xy(p.tmax), borderColor: '#000', borderWidth: 2, borderDash: [2, 4], pointRadius: 0, tension: 0, yAxisID: 'y2', order: 2 },
        { type: 'line', label: 'T min', data: xy(p.tmin), borderColor: '#8a8a8a', borderWidth: 1.4, pointRadius: 0, tension: 0, yAxisID: 'y2', order: 3 },
        { type: 'bar', label: 'Rainfall (mm)', data: xy(p.rain), backgroundColor: '#000', borderWidth: 0, barThickness: p.barW, yAxisID: 'y', order: 4 }
      ]
    },
    options: {
      responsive: false, animation: false, events: [],
      layout: { padding: { top: p.top, left: 0, right: 0, bottom: 0 } },
      plugins: { legend: { display: false }, tooltip: { enabled: false } },
      scales: {
        x: xScale(p.xmax, p.lastTick, 50, 8),
        y: {
          position: 'left', min: 0, max: 119,
          ticks: { stepSize: 10, padding: 9, color: '#333', font: { size: 18 } },
          afterBuildTicks: s => { s.ticks = stepTicks(0, 110, 10); },
          grid: { drawOnChartArea: false, tickLength: 9, color: AXIS, lineWidth: 1.5 },
          border: { display: false },
          afterFit: s => { s.width = 93; }
        },
        y2: {
          position: 'right', min: 0, max: 119,
          ticks: { stepSize: 10, padding: 7, color: '#333', font: { size: 18 } },
          afterBuildTicks: s => { s.ticks = stepTicks(0, 110, 10); },
          grid: { drawOnChartArea: false, drawTicks: false },
          border: { display: false },
          afterFit: s => { s.width = 68; }
        }
      }
    },
    plugins: [topPlugin(p)]
  });
}

function evapChart(id, p) {
  return new Chart(document.getElementById(id), {
    type: 'line',
    data: { datasets: [{ label: 'Evaporation (mm)', data: xy(p.evap), borderColor: '#111', borderWidth: 1.3, pointRadius: 0, tension: 0 }] },
    options: {
      responsive: false, animation: false, events: [],
      layout: { padding: { top: p.top, left: 0, right: 68, bottom: 0 } },
      plugins: { legend: { display: false }, tooltip: { enabled: false } },
      scales: {
        x: xScale(p.xmax, p.lastTick, p.axisH, p.tickPad),
        y: {
          min: p.ymin, max: p.ymax, ticks: { stepSize: 2, padding: 9, color: '#333', font: { size: 18 } },
          afterBuildTicks: s => { s.ticks = stepTicks(0, 12, 2); },
          grid: { drawOnChartArea: false, tickLength: 9, color: AXIS, lineWidth: 1.5 },
          border: { display: false },
          afterFit: s => { s.width = 93; }
        }
      }
    },
    plugins: [evapPlugin(p)]
  });
}

topChart('topA', {
  title: '1^st^ year or sugarcane planting', top: 45, xmax: 417, lastTick: 400, barW: 2.2,
  hum: humidityA, tmax: tmaxA, tmin: tminA, rain: rainA,
  mapLines: mapLinesA, stageLines: stageLinesA, mapTop: 95.5, mapLabelY: [99.6, 99.6, 99.6],
  stages: [
    { head: 'Dry season', x: 65, sub: '(Drought at early of growth stage)', subX: 61.7 },
    { head: 'Rainy season', x: 223.5, sub: '(Recovery stage)', subX: 223.5 },
    { head: 'Maturity stage', x: 361.8 }
  ],
  legend: { x0: 339, x1: 357, tx: 361, rows: [66.9, 60.2, 51.5, 43] },
  leftTitleY: 285, rightTitleY: 260
});
evapChart('evapA', {
  top: 25, xmax: 417, lastTick: 400, axisH: 155, tickPad: 14, ymin: -2, ymax: 14.2, evap: evapA,
  mapLines: mapLinesA, stageLines: stageLinesA,
  months: monthsA, monthDays: monthDaysA, monthDy: 56, titleDy: 92, letterDy: 135,
  xTitle: 'Days after planting (DAP) and months', letter: '(a)'
});
topChart('topB', {
  title: '2^nd^ year and sugarcane ratoon', top: 46, xmax: 370.3, lastTick: 360, barW: 2.5,
  hum: humidityB, tmax: tmaxB, tmin: tminB, rain: rainB,
  mapLines: mapLinesB, stageLines: stageLinesB, mapTop: 96, mapLabelY: [99.9, 101.2, 101.2],
  stages: [
    { head: 'Dry season', x: 43.5, sub: '(Drought at early of growth stage)', subX: 55.3 },
    { head: 'Rainy season', x: 170.8, sub: '(Recovery stage)', subX: 170.8 },
    { head: 'Maturity stage', x: 312.3 }
  ],
  legend: { x0: 305, x1: 320.6, tx: 324, rows: [65.9, 59.5, 50.8, 42.3] },
  leftTitleY: 285, rightTitleY: 272
});
evapChart('evapB', {
  top: 25, xmax: 370.3, lastTick: 360, axisH: 156, tickPad: 13, ymin: -2, ymax: 14.2, evap: evapB,
  mapLines: mapLinesB, stageLines: stageLinesB,
  months: monthsB, monthDays: monthDaysB, monthDy: 55, titleDy: 93, letterDy: 136,
  xTitle: 'Days after harvest (DAH) and months', letter: '(b)'
});
</script>
</body>
</html>
